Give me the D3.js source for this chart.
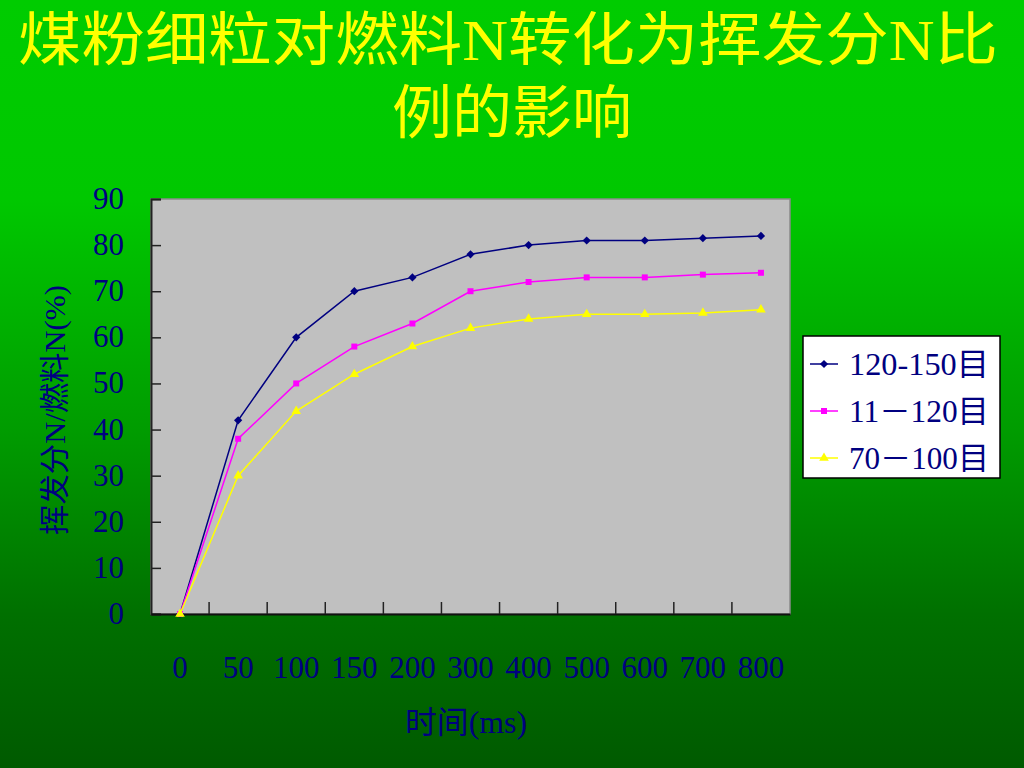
<!DOCTYPE html>
<html><head><meta charset="utf-8">
<script src="https://cdn.jsdelivr.net/npm/d3@7/dist/d3.min.js"></script>
<style>html,body{margin:0;padding:0;overflow:hidden;background:#006600}</style>
</head><body>
<script>
const categories = ["0","50","100","150","200","300","400","500","600","700","800"];
const seriesNames = ["120-150目","11－120目","70－100目"];
const s1 = [0,42,60,70,73,78,80,81,81,81.5,82];
const s2 = [0,38,50,58,63,70,72,73,73,73.6,74];
const s3 = [0,30,44,52,58,62,64,65,65,65.3,66];
const yTicks = [0,10,20,30,40,50,60,70,80,90];
const titleLines = ["煤粉细粒对燃料N转化为挥发分N比","例的影响"];
const xTitle = "时间(ms)";
const yTitle = "挥发分N/燃料N(%)";

const W=1024,H=768;
const svg=d3.select("body").append("svg").attr("width",W).attr("height",H);
const defs=svg.append("defs");
const g=defs.append("linearGradient").attr("id","bg").attr("x1",0).attr("y1",0).attr("x2",0).attr("y2",1);
[[0,"#00cc00"],[0.26,"#00c800"],[0.56,"#009c00"],[0.8,"#007000"],[1,"#005a00"]].forEach(s=>g.append("stop").attr("offset",s[0]).attr("stop-color",s[1]));
svg.append("rect").attr("width",W).attr("height",H).attr("fill","url(#bg)");

const font="'Liberation Serif','Noto Sans CJK SC',serif";
// title
svg.append("text").attr("x",508).attr("y",60).attr("text-anchor","middle").attr("fill","#ffff00")
 .attr("font-family",font).attr("font-size",58).attr("textLength",980).attr("lengthAdjust","spacingAndGlyphs").text(titleLines[0]);
svg.append("text").attr("x",512).attr("y",133).attr("text-anchor","middle").attr("fill","#ffff00")
 .attr("font-family",font).attr("font-size",58).attr("textLength",240).attr("lengthAdjust","spacingAndGlyphs").text(titleLines[1]);

const L=151,R=790,T=199,B=614;
const x=d3.scaleBand().domain(categories).range([L,R]);
const y=d3.scaleLinear().domain([0,90]).range([B,T]);
svg.append("rect").attr("x",L).attr("y",T).attr("width",R-L).attr("height",B-T).attr("fill","#c0c0c0").attr("stroke","#8a8a8a").attr("stroke-width",1.5);

// y axis
const ya=svg.append("g").attr("transform",`translate(${L},0)`).call(d3.axisRight(y).tickValues(yTicks).tickSize(10).tickFormat(""));
ya.select(".domain").attr("stroke","#222").attr("stroke-width",2);
ya.selectAll(".tick line").attr("stroke","#222").attr("stroke-width",1.5);
svg.append("g").selectAll("text").data(yTicks).join("text")
 .attr("x",124).attr("y",d=>y(d)+10).attr("text-anchor","end").attr("fill","#000080")
 .attr("font-family",font).attr("font-size",31).text(d=>d);

// x axis
const xa=svg.append("g").attr("transform",`translate(0,${B})`).call(d3.axisTop(x).tickSize(0).tickFormat(""));
xa.select(".domain").attr("stroke","#111").attr("stroke-width",2);
const bounds=categories.slice(1).map(c=>x(c));
svg.append("g").selectAll("line").data(bounds).join("line")
 .attr("x1",d=>d).attr("x2",d=>d).attr("y1",B).attr("y2",B-12).attr("stroke","#222").attr("stroke-width",1.5);
svg.append("g").selectAll("text").data(categories).join("text")
 .attr("x",d=>x(d)+x.bandwidth()/2).attr("y",678).attr("text-anchor","middle").attr("fill","#000080")
 .attr("font-family",font).attr("font-size",31).text(d=>d);

svg.append("text").attr("x",466).attr("y",733).attr("text-anchor","middle").attr("fill","#000080")
 .attr("font-family",font).attr("font-size",31).attr("textLength",122).attr("lengthAdjust","spacingAndGlyphs").text(xTitle);
svg.append("text").attr("transform","translate(65,410) rotate(-90)").attr("text-anchor","middle").attr("fill","#000080")
 .attr("font-family",font).attr("font-size",30).attr("textLength",250).attr("lengthAdjust","spacingAndGlyphs").text(yTitle);

const colors=["#000080","#ff00ff","#ffff00"];
const symbols=[d3.symbolSquare,d3.symbolSquare,d3.symbolTriangle];
const symSize=[34,36,40];
const rot=[45,0,0];
const data=[s1,s2,s3];
const line=d3.line().x((d,i)=>x(categories[i])+x.bandwidth()/2).y(d=>y(d));
[0,1,2].forEach(k=>{
  svg.append("path").attr("d",line(data[k])).attr("fill","none").attr("stroke",colors[k]).attr("stroke-width",1.5);
  svg.append("g").selectAll("path").data(data[k]).join("path")
   .attr("transform",(d,i)=>`translate(${x(categories[i])+x.bandwidth()/2},${y(d)}) rotate(${rot[k]})`)
   .attr("d",d3.symbol(symbols[k],symSize[k])).attr("fill",colors[k]);
});

// legend
const lg=svg.append("g");
lg.append("rect").attr("x",803).attr("y",336).attr("width",197).attr("height",142).attr("fill","#ffffff").attr("stroke","#000").attr("stroke-width",1.5);
seriesNames.forEach((n,k)=>{
  const cy=364+k*47;
  lg.append("line").attr("x1",810).attr("x2",838).attr("y1",cy).attr("y2",cy).attr("stroke",colors[k]).attr("stroke-width",1.5);
  lg.append("path").attr("transform",`translate(824,${cy}) rotate(${rot[k]})`).attr("d",d3.symbol(symbols[k],symSize[k])).attr("fill",colors[k]);
  lg.append("text").attr("x",849).attr("y",cy+11).attr("fill","#000080").attr("font-family",font).attr("font-size",31)
   .attr("textLength",140).attr("lengthAdjust","spacingAndGlyphs").text(n);
});
</script>
</body></html>
